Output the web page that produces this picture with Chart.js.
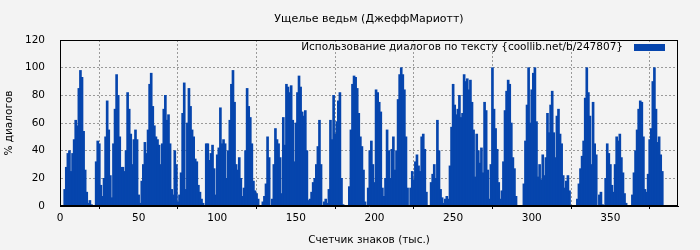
<!DOCTYPE html>
<html><head><meta charset="utf-8">
<script src="https://cdn.jsdelivr.net/npm/chart.js@4"></script>
<style>html,body{margin:0;padding:0;background:#f3f3f3;}</style>
</head><body>
<canvas id="c" width="700" height="250"></canvas>
<script>
const chartTitle = 'Ущелье ведьм (ДжеффМариотт)';
const seriesLabel = 'Использование диалогов по тексту {coollib.net/b/247807}';
const xTitle = 'Счетчик знаков (тыс.)';
const yTitle = '% диалогов';
const xStart = 0;
const xTicks = [0, 50, 100, 150, 200, 250, 300, 350];
const yTicks = [0, 20, 40, 60, 80, 100, 120];
const usage = [
  0,0,0,12,28,38,40,25,38,48,
  62,58,85,98,93,54,26,10,2,4,
  1,0,0,32,47,45,15,7,20,50,
  76,55,22,6,45,70,95,80,50,28,
  28,25,40,82,70,52,30,48,55,48,
  8,2,18,30,46,38,55,88,96,72,
  58,50,48,44,30,45,70,80,62,66,
  45,12,8,40,30,3,8,24,67,89,
  12,60,85,72,55,50,34,32,15,10,
  5,2,0,45,45,33,38,44,27,8,
  37,42,71,45,48,45,20,40,62,88,
  98,75,30,26,35,20,7,13,40,85,
  72,64,45,18,11,9,5,0,0,3,
  7,16,50,35,0,5,30,56,48,45,
  35,9,64,44,88,86,82,87,62,32,
  60,82,94,86,68,65,69,40,4,5,
  10,17,20,30,43,62,30,0,3,5,
  2,12,62,48,80,52,61,76,82,20,
  1,0,0,0,14,55,88,94,93,85,
  67,50,43,26,3,0,13,40,47,30,
  17,84,82,75,68,13,7,20,55,40,
  20,41,50,26,40,77,95,100,95,84,
  50,13,0,13,25,19,32,37,29,25,
  50,52,41,10,0,0,17,23,30,20,
  62,40,12,6,2,5,7,5,29,57,
  88,73,66,70,80,64,67,95,90,92,
  84,91,75,55,21,52,40,31,42,24,
  75,69,26,5,30,100,70,56,41,17,
  5,11,32,69,83,91,88,60,35,27,
  7,0,0,0,0,16,47,73,100,60,
  84,96,100,61,21,30,19,37,22,35,
  67,53,73,83,53,35,65,70,52,45,
  22,13,18,22,11,0,0,0,0,5,
  16,27,36,47,78,100,82,65,30,75,
  45,37,0,8,10,1,0,20,45,38,
  30,15,10,30,50,47,52,35,24,9,
  2,0,0,0,8,24,40,55,70,76,
  75,50,12,10,23,48,56,90,100,70,
  46,50,37,25
];
const barColor = '#0645ad';
const FONT = 'DejaVu Sans';

const points = usage.map((v, i) => ({ x: xStart + i, y: v }));

const deco = {
  id: 'deco',
  beforeDraw(chart) {
    const c = chart.ctx;
    c.save();
    c.fillStyle = '#f3f3f3';
    c.fillRect(0, 0, chart.width, chart.height);
    c.restore();
  },
  afterDraw(chart) {
    const c = chart.ctx, a = chart.chartArea;
    c.save();
    c.strokeStyle = '#000';
    c.lineWidth = 1;
    c.strokeRect(Math.round(a.left) + 0.5, Math.round(a.top) + 0.5, Math.round(a.right - a.left) - 1, Math.round(a.bottom - a.top) - 1);
    c.fillStyle = '#000';
    c.textBaseline = 'middle';
    c.textAlign = 'center';
    c.font = '11px "' + FONT + '"';
    c.fillText(chartTitle, (a.left + a.right) / 2, 19);
    c.font = '10.5px "' + FONT + '"';
    c.fillText(xTitle, (a.left + a.right) / 2, 240);
    c.save();
    c.translate(9, (a.top + a.bottom) / 2);
    c.rotate(-Math.PI / 2);
    c.fillText(yTitle, 0, 0);
    c.restore();
    // legend
    c.textAlign = 'right';
    c.fillText(seriesLabel, a.right - 55, a.top + 7);
    c.fillStyle = barColor;
    c.fillRect(a.right - 44, a.top + 4, 31, 7);
    c.restore();
  }
};

new Chart(document.getElementById('c'), {
  type: 'bar',
  data: {
    datasets: [{
      label: seriesLabel,
      data: points,
      backgroundColor: barColor,
      borderWidth: 0,
      barThickness: 2
    }]
  },
  options: {
    responsive: false,
    animation: false,
    devicePixelRatio: 1,
    layout: { padding: { left: 0, right: 22, top: 40, bottom: 0 } },
    plugins: { legend: { display: false }, title: { display: false }, tooltip: { enabled: false } },
    scales: {
      x: {
        type: 'linear',
        min: 0,
        max: 393,
        offset: false,
        afterBuildTicks: s => { s.ticks = xTicks.map(v => ({ value: v })); },
        afterFit: s => { s.height = 44; },
        ticks: { color: '#000', font: { family: FONT, size: 10.5 }, padding: 3, maxRotation: 0, autoSkip: false },
        grid: { color: '#9a9a9a', lineWidth: 1, drawTicks: true, tickLength: 3, tickColor: '#000' },
        border: { display: true, color: '#000', dash: [2, 2] }
      },
      y: {
        min: 0,
        max: 120,
        afterBuildTicks: s => { s.ticks = yTicks.map(v => ({ value: v })); },
        afterFit: s => { s.width = 60; },
        ticks: { color: '#000', font: { family: FONT, size: 10.5 }, padding: 15 },
        grid: { color: '#9a9a9a', lineWidth: 1, drawTicks: false },
        border: { display: true, color: '#000', dash: [2, 2] }
      }
    }
  },
  plugins: [deco]
});
</script>
</body></html>
